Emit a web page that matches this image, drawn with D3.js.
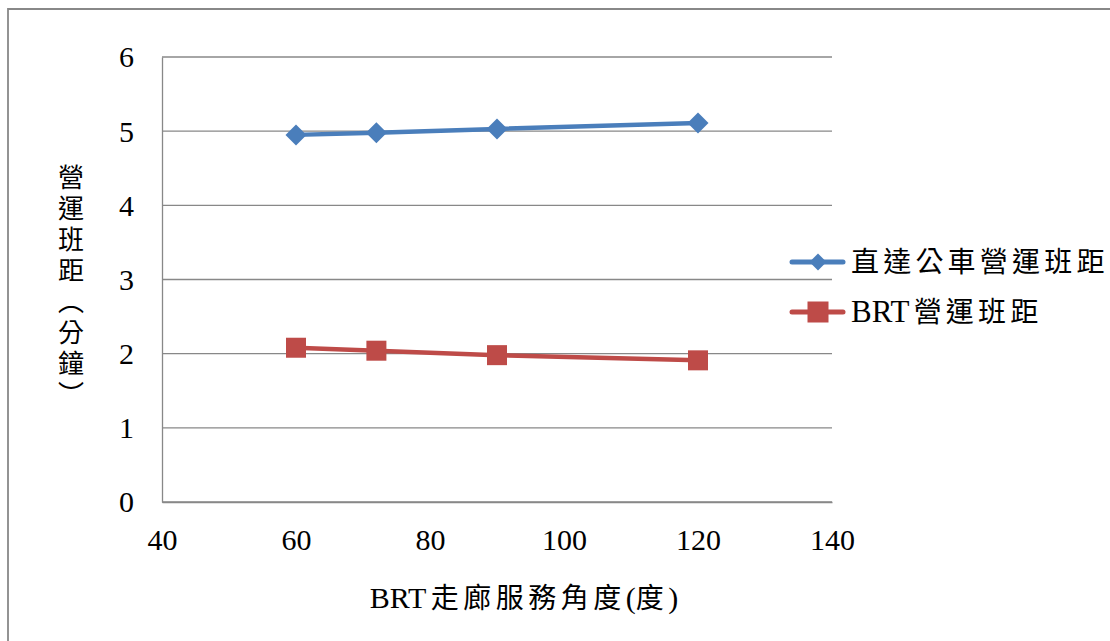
<!DOCTYPE html>
<html>
<head>
<meta charset="utf-8">
<script src="https://cdn.jsdelivr.net/npm/d3@7"></script>
<style>
  html, body { margin: 0; padding: 0; background: #fff; }
  svg { display: block; }
  text { font-family: "Liberation Serif", "Noto Sans CJK TC", serif; fill: #000; }
</style>
</head>
<body>
<svg id="chart" width="1110" height="641"></svg>
<script>
const angles = [60, 72, 90, 120];
const busHeadway = [4.95, 4.98, 5.03, 5.11];
const brtHeadway = [2.08, 2.04, 1.98, 1.91];
const seriesNames = ["直達公車營運班距", "BRT營運班距"];
const xTicks = [40, 60, 80, 100, 120, 140];
const yTicks = [0, 1, 2, 3, 4, 5, 6];
const xTitle = "BRT走廊服務角度(度)";
const yTitle = "營運班距︵分鐘︶";

const svg = d3.select("#chart");
const W = 1110, H = 641;
const plot = { left: 162, right: 832, top: 57, bottom: 502 };
const serif = "'Liberation Serif', 'Times New Roman', serif";

// Latin runs slightly larger and unspaced, CJK runs spaced out
function mixedText(sel, str, spacing, latinSize) {
  const runs = str.match(/[\x00-\x7F]+|[^\x00-\x7F]+/g);
  let prev = "";
  runs.forEach(r => {
    const ascii = /^[\x00-\x7F]+$/.test(r);
    const ts = sel.append("tspan").attr("letter-spacing", ascii ? 0 : spacing).text(r);
    if (ascii) ts.attr("font-size", latinSize);
    if (/[A-Za-z0-9]$/.test(prev)) ts.attr("dx", spacing);
    prev = r;
  });
}

// outer frame
svg.append("path")
  .attr("d", `M${W},9 H8 V${H + 2}`)
  .attr("fill", "none").attr("stroke", "#888").attr("stroke-width", 1.8);

const x = d3.scaleLinear().domain([40, 140]).range([plot.left, plot.right]);
const y = d3.scaleLinear().domain([0, 6]).range([plot.bottom, plot.top]);

// gridlines
svg.append("g").selectAll("line").data(yTicks).join("line")
  .attr("x1", plot.left).attr("x2", plot.right)
  .attr("y1", d => y(d)).attr("y2", d => y(d))
  .attr("stroke", "#888").attr("stroke-width", 1.3);

// y axis
const yAxis = svg.append("g").attr("transform", `translate(${plot.left},0)`)
  .call(d3.axisLeft(y).tickValues(yTicks).tickSize(0).tickPadding(28).tickFormat(d3.format("d")))
  .attr("font-family", serif).attr("font-size", 30);
yAxis.select(".domain").attr("stroke", "#888").attr("stroke-width", 1.3);
yAxis.selectAll("text").attr("dy", "0.33em").style("font-family", serif);

// x axis
const xAxis = svg.append("g").attr("transform", `translate(0,${plot.bottom})`)
  .call(d3.axisBottom(x).tickValues(xTicks).tickSize(0).tickPadding(27).tickFormat(d3.format("d")))
  .attr("font-family", serif).attr("font-size", 30);
xAxis.select(".domain").attr("stroke", "#888").attr("stroke-width", 1.3);
xAxis.selectAll("text").style("font-family", serif);

// axis titles
const xt = svg.append("text").attr("x", 524).attr("y", 608).attr("text-anchor", "middle")
  .attr("font-size", 28);
mixedText(xt, xTitle, 4.5, 30);

svg.append("text").attr("transform", "translate(68,288)")
  .attr("text-anchor", "middle")
  .style("writing-mode", "vertical-rl")
  .attr("font-size", 26).attr("letter-spacing", 5).text(yTitle);

const series = [
  { name: seriesNames[0], values: busHeadway, color: "#4a7ebb", shape: "diamond" },
  { name: seriesNames[1], values: brtHeadway, color: "#be4b48", shape: "square" }
];

const line = d3.line().x(d => x(d[0])).y(d => y(d[1]));

function marker(g, shape, color, cx, cy, s) {
  if (shape === "diamond") {
    g.append("path").attr("d", `M${cx},${cy - s} L${cx + s},${cy} L${cx},${cy + s} L${cx - s},${cy} Z`)
      .attr("fill", color);
  } else {
    g.append("rect").attr("x", cx - s).attr("y", cy - s).attr("width", 2 * s).attr("height", 2 * s)
      .attr("fill", color);
  }
}

series.forEach(s => {
  const pts = angles.map((a, i) => [a, s.values[i]]);
  const g = svg.append("g");
  g.append("path").attr("d", line(pts)).attr("fill", "none")
    .attr("stroke", s.color).attr("stroke-width", 4.5).attr("stroke-linejoin", "round");
  pts.forEach(p => marker(g, s.shape, s.color, x(p[0]), y(p[1]), s.shape === "diamond" ? 10.5 : 10));
});

// legend
const legY = [262, 312];
series.forEach((s, i) => {
  const g = svg.append("g");
  g.append("line").attr("x1", 792).attr("x2", 843).attr("y1", legY[i]).attr("y2", legY[i])
    .attr("stroke", s.color).attr("stroke-width", 5).attr("stroke-linecap", "round");
  marker(g, s.shape, s.color, 818, legY[i], s.shape === "diamond" ? 8.5 : 10.5);
  const t = g.append("text").attr("x", 851).attr("y", legY[i]).attr("dy", "0.36em")
    .attr("font-size", 28);
  mixedText(t, s.name, 4.2, 31);
});
</script>
</body>
</html>
